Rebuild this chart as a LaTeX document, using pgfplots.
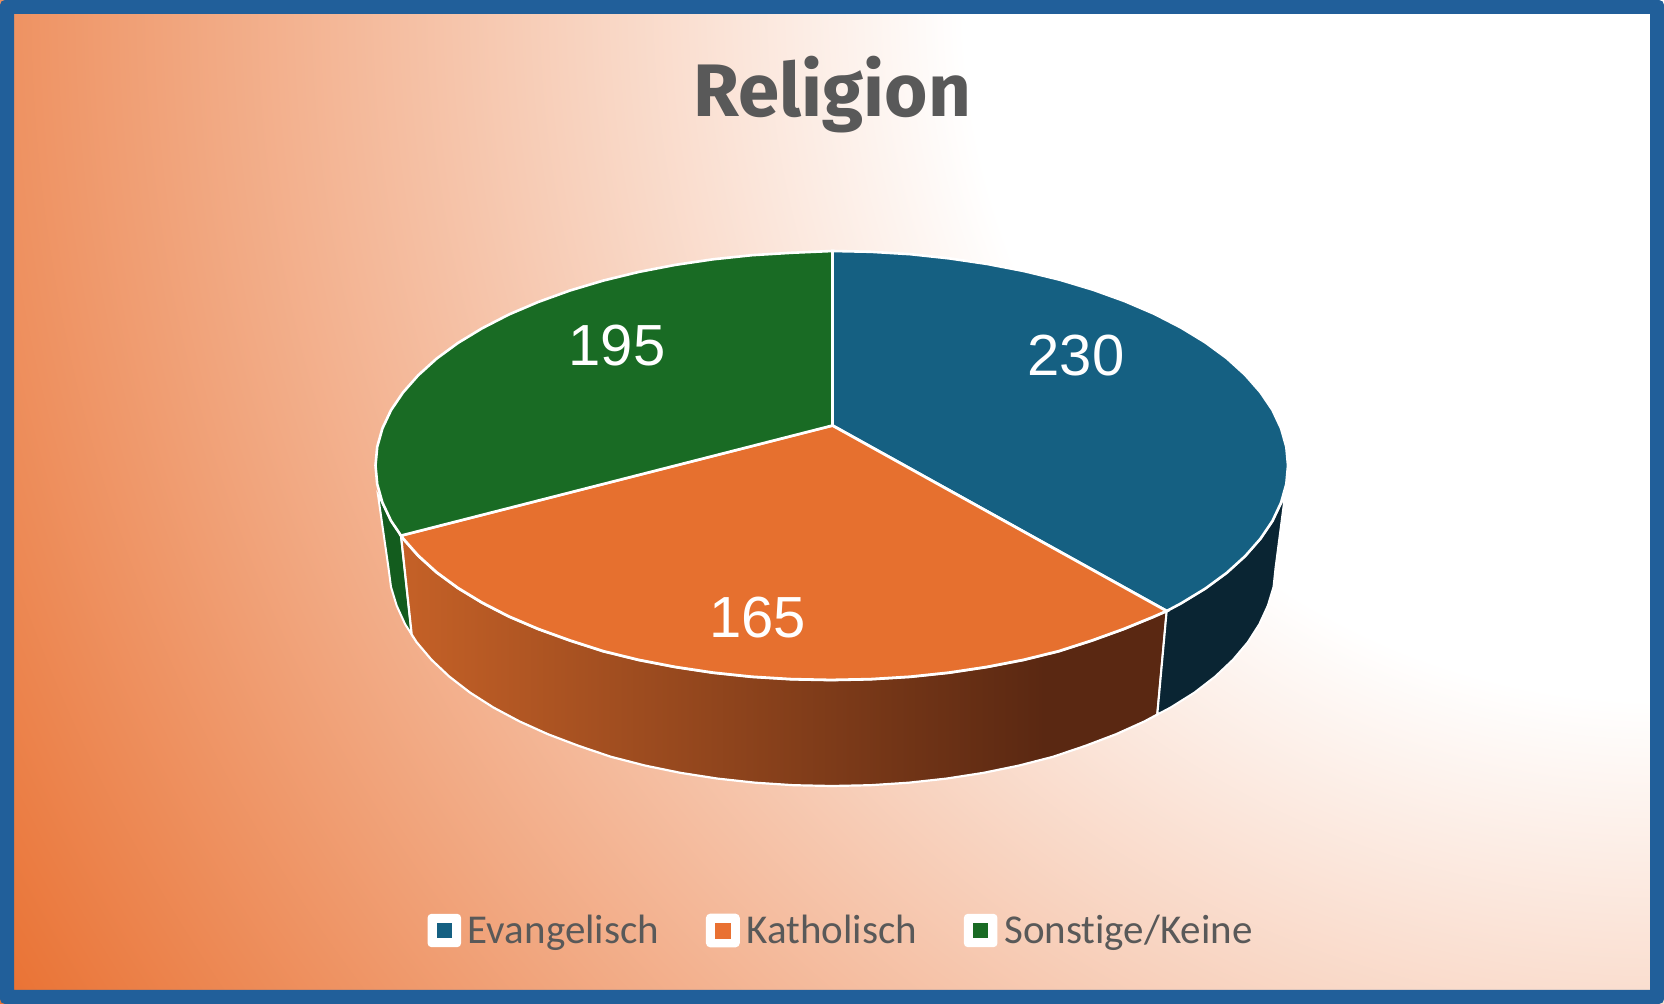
\documentclass[border=0pt]{standalone}
\usepackage{fontspec}
\usepackage{pgfplots}
\pgfplotsset{compat=1.18}
\setmainfont{Liberation Sans}
\newfontfamily\titlefont{Fira Sans}
\newfontfamily\legendfont[Ligatures=NoCommon]{Carlito}
\definecolor{fr}{HTML}{215F9A}
\definecolor{blu}{HTML}{156082}
\definecolor{ora}{HTML}{E6702F}
\definecolor{orb}{HTML}{E97132}
\definecolor{gre}{HTML}{196B24}
\definecolor{blud}{HTML}{0A2533}
\definecolor{gred}{HTML}{135C1E}
\definecolor{txt}{HTML}{595959}
\definecolor{os1}{HTML}{C56127}
\definecolor{os2}{HTML}{5A2812}
\pgfdeclareradialshading{bgrad}{\pgfpointorigin}{color(0bp)=(white); color(9bp)=(white); color(25bp)=(orb); color(50bp)=(orb)}
\pgfdeclarehorizontalshading{orangeside}{100bp}{color(0bp)=(os1); color(25bp)=(os1); color(67bp)=(os2); color(75bp)=(os2); color(100bp)=(os2)}
\begin{document}
\begin{tikzpicture}
\useasboundingbox (0,0) rectangle (832pt,502pt);
\begin{scope}
\clip (0,0) rectangle (832pt,502pt);
\path[shading=bgrad] (832pt,502pt) circle (972pt);
\end{scope}
\fill[fr,even odd rule,rounded corners=2.5pt] (0,0) rectangle (832pt,502pt)
  [sharp corners] (7pt,7pt) rectangle (825pt,495pt);
\begin{axis}[
  width=832pt,height=502pt,scale only axis,
  xmin=0,xmax=1664,ymin=0,ymax=1004,y dir=reverse,
  hide axis,clip=false,
  legend columns=3,
  legend cell align=left,
  legend style={at={(axis cs:842,930.5)},anchor=center,draw=none,fill=none,
    font=\legendfont\fontsize{20.5}{24}\selectfont,text=txt,
    inner sep=0pt,outer sep=0pt,
    /tikz/every odd column/.append style={column sep=1.4pt},
    /tikz/every even column/.append style={column sep=21.4pt}},
]
% side faces
\addplot[forget plot,fill=gred,draw=white,line width=1pt] coordinates {
 (378,495)(382.4,502.6)(391,520.8)(401,535.6)(411.7,634.5)(405.1,624.2)(396.7,605.7)(391,587)(388.5,568)} --cycle;
\addplot[forget plot,shading=orangeside,draw=white,line width=1.1pt] coordinates {
 (401,535.6)(403,538.5)(418.2,555.7)(436.5,572.3)(457.9,588)(482.1,602.7)(508.9,616.5)(538.2,629)(569.7,640.4)(603.2,651.2)(638.5,659.9)(675.2,667)(713.1,672.7)(751.9,676.8)(791.3,679.2)(831,680)(870.7,679.2)(910.1,676.8)(948.9,672.7)(986.8,667)(1023.5,659.9)(1058.8,651.2)(1092.3,640.4)(1123.8,629)(1153.1,617)(1166.7,611)
 (1157.3,714.5)(1144.5,721.4)(1116.1,734.2)(1085.5,745.8)(1053,756.8)(1018.8,765.6)(983.2,772.9)(946.4,778.6)(908.7,782.7)(870.5,785.2)(832,786)(793.5,785.2)(755.3,782.7)(717.6,778.6)(680.8,772.9)(645.2,765.6)(611,756.8)(578.5,745.8)(547.9,734.2)(519.5,721.4)(493.4,707.5)(469.9,692.5)(449.2,676.5)(431.4,659.7)(416.6,642.2)(411.7,634.5)} --cycle;
\addplot[forget plot,fill=blud,draw=white,line width=1pt] coordinates {
 (1166.7,611)(1181,603.4)(1205.3,588.6)(1226.8,572.8)(1245.2,556.1)(1260.4,538.8)(1272.4,521.1)(1285,495)
 (1275.5,568)(1273.5,587)(1267.8,605.7)(1259.3,624.2)(1247.8,642.2)(1233,659.7)(1215.2,676.5)(1194.5,692.5)(1170.6,707.5)(1157.3,714.5)} --cycle;
% top faces
\addplot[fill=blu,draw=white,line width=1.3pt,
  legend image code/.code={\draw[white,fill=white,rounded corners=1.5pt] (0pt,-7.7pt) rectangle (15.5pt,7.7pt);\fill[blu] (4.5pt,-3.3pt) rectangle (11pt,3.3pt);}] coordinates {
 (832.5,425.5)(832.5,251)(870.8,251.8)(910.4,254.2)(949.3,258.4)(987.3,264)(1024.1,271.1)(1059.6,279.7)(1093.2,289.8)(1124.8,301.2)(1154.2,313.8)(1181,327.6)(1205.3,342.4)(1226.8,358.2)(1245.2,374.9)(1260.4,392.2)(1272.4,409.9)(1281,428.2)(1286.3,446.8)(1288,465.5)(1286.3,484.2)(1281,502.8)(1272.4,521.1)(1260.4,538.8)(1245.2,556.1)(1226.8,572.8)(1205.3,588.6)(1181,603.4)(1166.7,611)} --cycle;
\addlegendentry{Evangelisch}
\addplot[fill=ora,draw=white,line width=1.4pt,
  legend image code/.code={\draw[white,fill=white,rounded corners=1.5pt] (0pt,-7.7pt) rectangle (15.5pt,7.7pt);\fill[orb] (4.5pt,-3.3pt) rectangle (11pt,3.3pt);}] coordinates {
 (832.5,425.5)(1166.7,611)(1153.1,617)(1123.8,629)(1092.3,640.4)(1058.8,651.2)(1023.5,659.9)(986.8,667)(948.9,672.7)(910.1,676.8)(870.7,679.2)(831,680)(791.3,679.2)(751.9,676.8)(713.1,672.7)(675.2,667)(638.5,659.9)(603.2,651.2)(569.7,640.4)(538.2,629)(508.9,616.5)(482.1,602.7)(457.9,588)(436.5,572.3)(418.2,555.7)(403,538.5)(401,535.6)} --cycle;
\addlegendentry{Katholisch}
\addplot[fill=gre,draw=white,line width=1.3pt,
  legend image code/.code={\draw[white,fill=white,rounded corners=1.5pt] (0pt,-7.7pt) rectangle (15.5pt,7.7pt);\fill[gre] (4.5pt,-3.3pt) rectangle (11pt,3.3pt);}] coordinates {
 (832.5,425.5)(401,535.6)(391,520.8)(382.4,502.6)(377.2,484.1)(375.5,465.5)(377.2,446.9)(382.4,428.4)(391,410.2)(403,392.5)(418.2,375.3)(436.5,358.7)(457.9,343)(482.1,328.3)(508.9,314.5)(538.2,302)(569.7,290.6)(603.2,280.6)(638.5,272)(675.2,264.9)(713.1,259.3)(751.9,255.2)(791.3,252.8)(832.5,251)} --cycle;
\addlegendentry{Sonstige/Keine}
\node[anchor=base,text=white,font=\fontsize{29}{32}\selectfont] at (axis cs:1076,376) {230};
\node[anchor=base,text=white,font=\fontsize{29}{32}\selectfont] at (axis cs:757.7,637.3) {165};
\node[anchor=base,text=white,font=\fontsize{29}{32}\selectfont] at (axis cs:617,366) {195};
\node[anchor=base,text=txt,font=\titlefont\bfseries\fontsize{37.2}{41}\selectfont] at (axis cs:832.5,117) {Religion};
\end{axis}
\end{tikzpicture}
\end{document}
